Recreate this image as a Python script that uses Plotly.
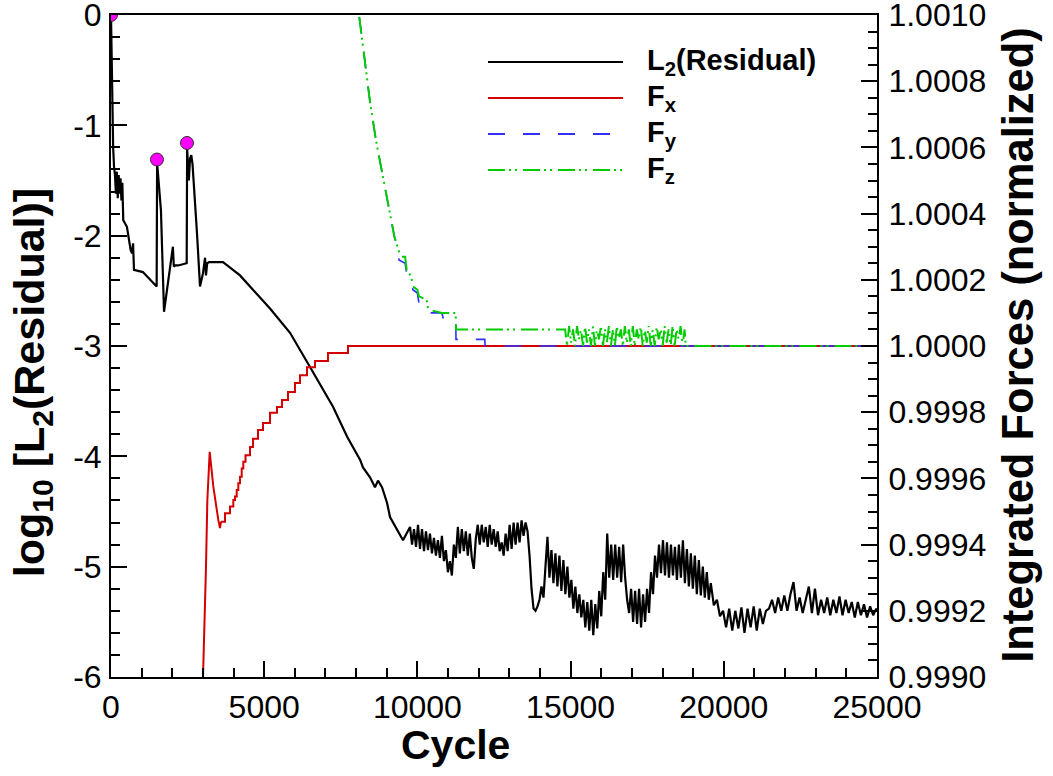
import plotly.graph_objects as go

# ---------------- data (cycle, value) ----------------
residual_pts = [
    (0, 0.0), (20, -0.5), (40, -0.89), (70, -1.2), (100, -1.38), (130, -1.45), (160, -1.62), (190, -1.42),
    (220, -1.66), (250, -1.45), (280, -1.62), (310, -1.48), (340, -1.68), (370, -1.52), (400, -1.86),
    (520, -1.92), (640, -2.13), (685, -2.16), (720, -2.07), (750, -2.31), (1040, -2.33), (1490, -2.46),
    (1505, -1.34), (1560, -1.5), (1630, -1.77), (1730, -2.69), (1990, -2.16), (2020, -2.10), (2050, -2.28),
    (2090, -2.27), (2190, -2.27), (2470, -2.25), (2485, -1.21), (2540, -1.5), (2580, -1.30), (2620, -1.27),
    (2660, -1.35), (2709, -1.53), (2807, -1.98), (2905, -2.46), (3003, -2.34), (3070, -2.20), (3100, -2.36),
    (3140, -2.25), (3200, -2.24), (3656, -2.24), (4211, -2.36), (5190, -2.66), (5843, -2.88), (6495, -3.19),
    (7246, -3.55), (7703, -3.82), (8128, -4.03), (8225, -4.10), (8453, -4.19), (8616, -4.28), (8714, -4.22),
    (8845, -4.28), (9008, -4.42), (9106, -4.55), (9334, -4.67), (9530, -4.76),
    (9760, -4.64), (9825, -4.80), (9890, -4.66), (9955, -4.82), (10020, -4.62), (10085, -4.84),
    (10150, -4.66), (10215, -4.86), (10280, -4.68), (10345, -4.85), (10410, -4.70), (10475, -4.88),
    (10540, -4.74), (10605, -4.90), (10670, -4.76), (10735, -4.92), (10800, -4.72), (10865, -4.95),
    (10930, -4.85), (10995, -5.05), (11060, -4.95), (11125, -5.08), (11190, -4.80), (11255, -4.92),
    (11320, -4.64), (11385, -4.88), (11450, -4.66), (11515, -4.86), (11580, -4.68), (11645, -4.90),
    (11710, -4.70), (11775, -4.92), (11840, -5.02), (11905, -4.75), (11970, -4.62), (12035, -4.80),
    (12100, -4.62), (12165, -4.78), (12230, -4.64), (12295, -4.82), (12360, -4.62), (12425, -4.80),
    (12490, -4.66), (12555, -4.82), (12620, -4.68), (12685, -4.86), (12750, -4.78), (12815, -4.90),
    (12880, -4.70), (12945, -4.86), (13010, -4.62), (13075, -4.84), (13140, -4.60), (13205, -4.80),
    (13270, -4.60), (13335, -4.78), (13400, -4.58), (13465, -4.72), (13530, -4.60), (13595, -4.68),
    (13660, -4.90),
    (13725, -5.20), (13790, -5.38), (13855, -5.40), (13920, -5.36), (13985, -5.30), (14050, -5.18),
    (14115, -5.28), (14180, -5.00), (14245, -4.73), (14310, -5.10), (14375, -4.85), (14440, -5.15),
    (14505, -4.88), (14570, -5.18), (14635, -4.90), (14700, -5.22), (14765, -4.94), (14830, -5.25),
    (14895, -5.00), (14960, -5.28), (15025, -5.12), (15090, -5.38), (15155, -5.18), (15220, -5.42),
    (15285, -5.25), (15350, -5.46), (15415, -5.30), (15480, -5.55), (15545, -5.32), (15610, -5.58),
    (15675, -5.30), (15740, -5.62), (15805, -5.34), (15870, -5.56), (15935, -5.22), (16000, -5.45),
    (16065, -5.05), (16130, -5.30), (16195, -4.70), (16260, -5.10), (16325, -4.80), (16390, -5.12),
    (16455, -4.80), (16520, -5.10), (16585, -4.82), (16650, -5.14), (16715, -4.80), (16780, -5.10),
    (16845, -5.30), (16910, -5.42), (16975, -5.20), (17040, -5.50), (17105, -5.22), (17170, -5.52),
    (17235, -5.20), (17300, -5.55), (17365, -5.25), (17430, -5.50), (17495, -5.20), (17560, -5.42),
    (17625, -5.05), (17690, -5.25), (17755, -4.90), (17820, -5.10), (17885, -4.80), (17950, -5.06),
    (18015, -4.76), (18080, -5.08), (18145, -4.78), (18210, -5.10), (18275, -4.80), (18340, -5.08),
    (18405, -4.82), (18470, -5.12), (18535, -4.80), (18600, -5.10), (18665, -4.76), (18730, -5.15),
    (18795, -4.84), (18860, -5.18), (18925, -4.88), (18990, -5.20), (19055, -4.90), (19120, -5.25),
    (19185, -4.94), (19250, -5.26), (19315, -5.00), (19380, -5.28), (19445, -5.05), (19510, -5.30),
    (19575, -5.15), (19675, -5.35), (19775, -5.30), (19875, -5.45), (19975, -5.40), (20075, -5.55),
    (20175, -5.38), (20275, -5.58), (20375, -5.40), (20475, -5.56), (20575, -5.37), (20675, -5.60),
    (20775, -5.38), (20875, -5.55), (20975, -5.36), (21075, -5.58), (21175, -5.38), (21275, -5.52),
    (21375, -5.40), (21475, -5.38), (21575, -5.30), (21675, -5.42), (21775, -5.28), (21875, -5.40),
    (21975, -5.26), (22075, -5.40), (22175, -5.25), (22275, -5.14), (22375, -5.40), (22475, -5.28),
    (22575, -5.42), (22675, -5.30), (22775, -5.18), (22875, -5.42), (22975, -5.20), (23075, -5.44),
    (23175, -5.30), (23275, -5.42), (23375, -5.28), (23475, -5.44), (23575, -5.30), (23675, -5.42),
    (23775, -5.27), (23875, -5.44), (23975, -5.30), (24075, -5.42), (24175, -5.32), (24275, -5.46),
    (24375, -5.32), (24475, -5.44), (24575, -5.34), (24675, -5.46), (24775, -5.36), (24875, -5.44),
    (24975, -5.38), (25000, -5.40),
]

restart_pts = [(0, 0.0), (1500, -1.31), (2480, -1.16)]

fx_ramp_pts = [(2990, 0.99880), (3003, 0.99900), (3100, 0.999332), (3145, 0.999535), (3221, 0.99968),
               (3340, 0.999575), (3503, 0.999474), (3558, 0.99945), (3590, 0.999469)]
fx_step_pts = [(3590, 0.999469), (3721, 0.999495), (3884, 0.999515), (3992, 0.999535), (4047, 0.999545),
               (4103, 0.999565), (4155, 0.999585), (4210, 0.999605), (4266, 0.99963), (4318, 0.99965),
               (4390, 0.99967), (4537, 0.999695), (4635, 0.99972), (4798, 0.999746), (4961, 0.999767),
               (5190, 0.999798), (5418, 0.999816), (5581, 0.999837), (5777, 0.999861), (6005, 0.999888),
               (6169, 0.999912), (6397, 0.999936), (6658, 0.999955), (7083, 0.999979), (7735, 1.0),
               (25000, 1.0)]

fy_pts = [(8050, 1.00110), (8095, 1.00100), (8300, 1.00085), (8450, 1.00074), (8650, 1.00062),
          (8850, 1.00052), (9000, 1.00045), (9150, 1.00038), (9250, 1.00033), (9350, 1.00030),
          (9400, 1.00026), (9600, 1.00025), (9650, 1.00022), (9800, 1.00020), (9850, 1.00017),
          (10000, 1.00016), (10050, 1.00013), (10300, 1.00012), (10350, 1.00010), (10800, 1.00010),
          (10850, 1.00008), (11250, 1.00008), (11260, 1.00002), (12200, 1.00002), (12210, 1.00000),
          (25000, 1.00000)]

fz_pts = [(8050, 1.00110), (8095, 1.00100), (8300, 1.00085), (8450, 1.00074), (8650, 1.00062),
          (8850, 1.00052), (9000, 1.00045), (9150, 1.00038), (9250, 1.00033), (9350, 1.00030),
          (9450, 1.00027), (9600, 1.00027), (9650, 1.00023), (9800, 1.00021), (9850, 1.00018),
          (10000, 1.00017), (10050, 1.00015), (10300, 1.00014), (10350, 1.00011), (10800, 1.00010),
          (11250, 1.00010), (11260, 1.00005),
          (14820, 1.00005), (14885, 1.00000), (14950, 1.00006), (15015, 1.00001), (15080, 1.00005),
          (15145, 1.00000), (15210, 1.00006), (15275, 1.00002), (15340, 1.00005), (15405, 1.00000),
          (15470, 1.00006), (15535, 1.00001), (15600, 1.00005), (15665, 1.00000), (15730, 1.00006),
          (15795, 1.00000), (15860, 1.00005), (15925, 1.00002), (15990, 1.00006), (16055, 1.00000),
          (16120, 1.00005), (16185, 1.00001), (16250, 1.00006), (16315, 1.00000), (16380, 1.00005),
          (16445, 1.00000), (16510, 1.00006), (16575, 1.00002), (16640, 1.00005), (16705, 1.00000),
          (16770, 1.00006), (16835, 1.00001), (16900, 1.00005), (16965, 1.00000), (17030, 1.00006),
          (17095, 1.00000), (17160, 1.00005), (17225, 1.00002), (17290, 1.00006), (17355, 1.00000),
          (17420, 1.00005), (17485, 1.00001), (17550, 1.00006), (17615, 1.00000), (17680, 1.00005),
          (17745, 1.00000), (17810, 1.00006), (17875, 1.00002), (17940, 1.00005), (18005, 1.00000),
          (18070, 1.00006), (18135, 1.00001), (18200, 1.00005), (18265, 1.00000), (18330, 1.00006),
          (18395, 1.00000), (18460, 1.00005), (18525, 1.00002), (18590, 1.00006), (18655, 1.00000),
          (18720, 1.00005), (18760, 1.00000), (25000, 1.00000)]

x_ticks = [0, 5000, 10000, 15000, 20000, 25000]
y_ticks = [-6, -5, -4, -3, -2, -1, 0]
y2_ticks = [0.9990, 0.9992, 0.9994, 0.9996, 0.9998, 1.0000, 1.0002, 1.0004, 1.0006, 1.0008, 1.0010]

legend_labels = ["L<sub>2</sub>(Residual)", "F<sub>x</sub>", "F<sub>y</sub>", "F<sub>z</sub>"]
legend_colors = ["black", "#d40000", "#3030ff", "#00cc00"]
legend_dash = ["solid", "solid", "17px,18px", "17px,4px,2px,4px,2px,6px"]


def xs(pts):
    return [p[0] for p in pts]


def ys(pts):
    return [p[1] for p in pts]


# ---------------- figure ----------------
FONT = "Liberation Sans"
RED, BLUE, GREEN = legend_colors[1], legend_colors[2], legend_colors[3]

fig = go.Figure()
fig.add_trace(go.Scatter(x=xs(residual_pts), y=ys(residual_pts), mode="lines",
                         line=dict(color="black", width=2.2), yaxis="y", showlegend=False))
fig.add_trace(go.Scatter(x=xs(restart_pts), y=ys(restart_pts), mode="markers",
                         marker=dict(color="#ff00ff", size=13, line=dict(color="#333333", width=1)),
                         yaxis="y", showlegend=False))
fig.add_trace(go.Scatter(x=xs(fx_ramp_pts), y=ys(fx_ramp_pts), mode="lines", line=dict(color=RED, width=2),
                         yaxis="y2", showlegend=False))
fig.add_trace(go.Scatter(x=xs(fx_step_pts), y=ys(fx_step_pts), mode="lines",
                         line=dict(color=RED, width=2, shape="hv"), yaxis="y2", showlegend=False))
fig.add_trace(go.Scatter(x=xs(fy_pts), y=ys(fy_pts), mode="lines",
                         line=dict(color=BLUE, width=1.6, dash=legend_dash[2]), yaxis="y2", showlegend=False))
fig.add_trace(go.Scatter(x=xs(fz_pts), y=ys(fz_pts), mode="lines",
                         line=dict(color=GREEN, width=2, dash=legend_dash[3]), yaxis="y2", showlegend=False))

tickfont = dict(family=FONT, size=32, color="black")
common = dict(showgrid=False, zeroline=False, ticks="inside", tickwidth=2, ticklen=16, tickcolor="black",
              showline=True, linewidth=2, linecolor="black", tickfont=tickfont, ticklabeloverflow="allow",
              automargin=False)

fig.update_layout(
    width=1053, height=776,
    margin=dict(l=111, r=176, t=15, b=99, autoexpand=False),
    paper_bgcolor="white", plot_bgcolor="white",
    xaxis=dict(range=[0, 25000], tickvals=x_ticks, ticktext=[str(v) for v in x_ticks], mirror=True,
               ticklabelstandoff=1,
               minor=dict(dtick=1000, ticks="inside", ticklen=9, tickwidth=1.5, tickcolor="black", showgrid=False),
               **common),
    yaxis=dict(range=[-6, 0], tickvals=y_ticks, ticktext=[str(v) for v in y_ticks], ticklabelstandoff=1,
               minor=dict(dtick=0.2, ticks="inside", ticklen=9, tickwidth=1.5, tickcolor="black", showgrid=False),
               **common),
    yaxis2=dict(range=[0.999, 1.001], tickvals=y2_ticks, ticktext=["%.4f" % v for v in y2_ticks],
                overlaying="y", side="right", ticklabelstandoff=3,
                minor=dict(dtick=0.00005, ticks="inside", ticklen=9, tickwidth=1.5, tickcolor="black",
                           showgrid=False),
                **common),
    showlegend=False,
)

# axis titles
fig.add_annotation(text="<b>Cycle</b>", xref="paper", yref="paper", x=0.45, y=-0.103,
                   xanchor="center", yanchor="middle", showarrow=False,
                   font=dict(family=FONT, size=41, color="black"))
fig.add_annotation(text="<b>log<sub>10</sub> [L<sub>2</sub>(Residual)]</b>", xref="paper", yref="paper",
                   x=-0.102, y=0.445, xanchor="center", yanchor="middle", textangle=-90, showarrow=False,
                   font=dict(family=FONT, size=43, color="black"))
fig.add_annotation(text="<b>Integrated Forces (normalized)</b>", xref="paper", yref="paper",
                   x=1.183, y=0.502, xanchor="center", yanchor="middle", textangle=-90, showarrow=False,
                   font=dict(family=FONT, size=43.5, color="black"))

# legend drawn in the upper part of the plot
leg_y_px = [62, 98, 134, 170]
for lab, col, dsh, ypx in zip(legend_labels, legend_colors, legend_dash, leg_y_px):
    yp = (677 - ypx) / 662
    fig.add_shape(type="line", xref="paper", yref="paper", x0=(488 - 111) / 766, x1=(623 - 111) / 766,
                  y0=yp, y1=yp, line=dict(color=col, width=2, dash=dsh))
    fig.add_annotation(text="<b>" + lab + "</b>", xref="paper", yref="paper", x=(645 - 111) / 766, y=yp,
                       xanchor="left", yanchor="middle", showarrow=False,
                       font=dict(family=FONT, size=29, color="black"))

fig.write_html("out.html", config={"displayModeBar": False},
               post_script="document.body.style.margin='0px';")
